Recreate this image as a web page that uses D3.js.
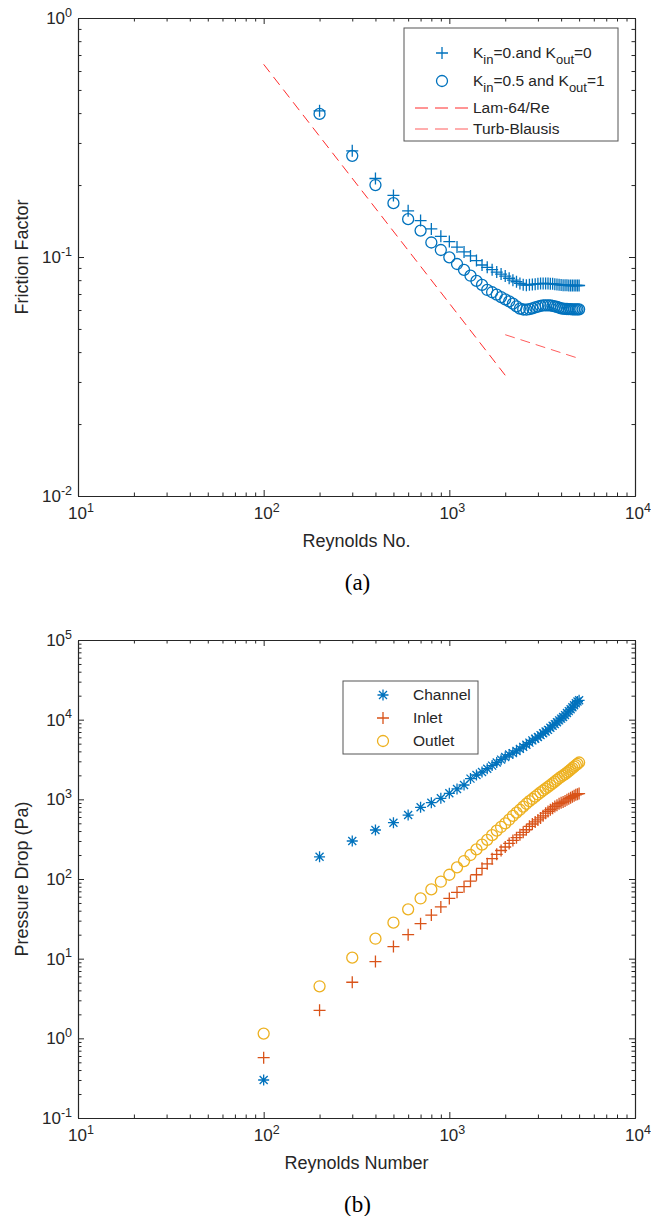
<!DOCTYPE html>
<html>
<head>
<meta charset="utf-8">
<script src="https://cdnjs.cloudflare.com/ajax/libs/d3/7.8.5/d3.min.js"></script>
<style>
  body { margin: 0; background: #fff; }
  svg { display: block; font-family: "Liberation Sans", Arial, sans-serif; }
</style>
</head>
<body>
<div id="chart"></div>
<script>
// Reynolds numbers (x data)
var reTop = [200, 300, 400, 500, 600, 700, 800, 900, 1000, 1100, 1200, 1300, 1400, 1500, 1600, 1700,
  1800, 1900, 2000, 2100, 2200, 2300, 2400, 2500, 2600, 2700, 2800, 2900, 3000, 3100, 3200, 3300,
  3400, 3500, 3600, 3700, 3800, 3900, 4000, 4100, 4200, 4300, 4400, 4500, 4600, 4700, 4800, 4900, 5000];
var reBottom = [100].concat(reTop);

// (a) friction factor
var fricNoLoss = [0.409, 0.278, 0.213, 0.181, 0.156, 0.142, 0.131, 0.122, 0.116, 0.110, 0.105, 0.101,
  0.0966, 0.0926, 0.0905, 0.0885, 0.0865, 0.0848, 0.0832, 0.0815, 0.0800, 0.0788, 0.0775, 0.0765,
  0.0762, 0.0765, 0.0768, 0.0770, 0.0772, 0.0774, 0.0775, 0.0775, 0.0774, 0.0773, 0.0772, 0.0770,
  0.0768, 0.0766, 0.0764, 0.0762, 0.0762, 0.0761, 0.0760, 0.0760, 0.0760, 0.0760, 0.0760, 0.0760, 0.0760];
var fricLoss = [0.397, 0.265, 0.200, 0.168, 0.144, 0.129, 0.115, 0.107, 0.0997, 0.0935, 0.0883, 0.0835,
  0.0794, 0.0764, 0.0728, 0.0712, 0.0696, 0.0680, 0.0665, 0.0652, 0.0638, 0.0622, 0.0608, 0.0603,
  0.0602, 0.0605, 0.0610, 0.0615, 0.0620, 0.0624, 0.0627, 0.0628, 0.0628, 0.0627, 0.0625, 0.0622,
  0.0618, 0.0614, 0.0610, 0.0608, 0.0607, 0.0606, 0.0605, 0.0605, 0.0604, 0.0604, 0.0604, 0.0604, 0.0604];
var lamRe = [100, 2000];
var lamF = [0.64, 0.032];
var turbRe = [2000, 5000];
var turbF = [0.0473, 0.0376];

// (b) pressure drop (Pa)
var dpChannel = [0.30, 190, 300, 412, 509, 635, 794, 908, 1030, 1190, 1350, 1514, 1820, 2020, 2200,
  2420, 2650, 2900, 3150, 3400, 3650, 3800, 4050, 4300, 4550, 4850, 5150, 5500, 5750, 6050, 6400,
  6750, 7100, 7450, 7900, 8400, 8800, 9300, 9800, 10300, 10800, 11400, 12100, 12800, 13500, 14300,
  15200, 16100, 16900, 17500];
var dpInlet = [0.571, 2.25, 5.06, 9.2, 14.2, 20.0, 27.5, 35.3, 44.6, 57, 68, 80, 94, 113, 136, 155,
  180, 204, 228, 252, 280, 305, 330, 358, 385, 415, 458, 490, 520, 552, 585, 620, 670, 705, 740,
  775, 810, 845, 880, 905, 925, 950, 985, 1020, 1050, 1080, 1110, 1140, 1160, 1180];
var dpOutlet = [1.146, 4.5, 10.3, 17.8, 28.3, 41.6, 57, 74, 92.5, 113, 140, 168, 200, 235, 270, 310,
  355, 405, 450, 500, 555, 620, 680, 740, 810, 880, 950, 1010, 1080, 1150, 1220, 1290, 1360, 1430,
  1510, 1590, 1670, 1750, 1840, 1920, 1990, 2070, 2160, 2260, 2360, 2460, 2570, 2680, 2790, 2900];

// tick exponents
var xExp = [1, 2, 3, 4];
var yExpTop = [-2, -1, 0];
var yExpBottom = [-1, 0, 1, 2, 3, 4, 5];

var BLUE = '#0072bd', ORANGE = '#d95319', YELLOW = '#edb120', AXC = '#262626';
var RED1 = '#ff2b2b', RED2 = '#ff5c5c';

var svg = d3.select('#chart').append('svg').attr('width', 651).attr('height', 1216);

function minorTicks(e0, e1) {
  var arr = [];
  for (var e = e0; e < e1; e++) {
    for (var k = 2; k < 10; k++) arr.push(k * Math.pow(10, e));
  }
  return arr;
}

function supText(sel, exp, anchor) {
  var t = sel.append('text').attr('text-anchor', anchor).attr('fill', AXC).style('font-size', '17px');
  t.append('tspan').text('10');
  t.append('tspan').attr('dy', -7.5).style('font-size', '12.5px').text(exp);
  return t;
}

function drawPanel(o) {
  var x = d3.scaleLog().domain([10, 10000]).range([o.left, o.right]);
  var y = d3.scaleLog().domain([Math.pow(10, o.yExp[0]), Math.pow(10, o.yExp[o.yExp.length - 1])])
    .range([o.bottom, o.top]);
  var g = svg.append('g');
  var xMaj = xExp.map(function (e) { return Math.pow(10, e); });
  var yMaj = o.yExp.map(function (e) { return Math.pow(10, e); });
  var xMin = minorTicks(1, 4);
  var yMin = minorTicks(o.yExp[0], o.yExp[o.yExp.length - 1]);

  // ticks point inwards on all four sides
  var sides = [
    ['axisBottom', x, xMaj, xMin, 'translate(0,' + o.bottom + ')'],
    ['axisTop', x, xMaj, xMin, 'translate(0,' + o.top + ')'],
    ['axisLeft', y, yMaj, yMin, 'translate(' + o.left + ',0)'],
    ['axisRight', y, yMaj, yMin, 'translate(' + o.right + ',0)']
  ];
  sides.forEach(function (s) {
    g.append('g').attr('transform', s[4])
      .call(d3[s[0]](s[1]).tickValues(s[3]).tickSizeInner(-3.5).tickSizeOuter(0).tickFormat(''));
    g.append('g').attr('transform', s[4])
      .call(d3[s[0]](s[1]).tickValues(s[2]).tickSizeInner(-6).tickSizeOuter(0).tickFormat(''));
  });
  g.selectAll('.domain').attr('stroke', AXC).attr('stroke-width', 1.1);
  g.selectAll('.tick line').attr('stroke', AXC).attr('stroke-width', 1);

  // tick labels
  xExp.forEach(function (e) {
    supText(g, e, 'middle').attr('x', x(Math.pow(10, e)) + 3).attr('y', o.bottom + 23);
  });
  o.yExp.forEach(function (e) {
    supText(g, e, 'end').attr('x', o.left - 6).attr('y', y(Math.pow(10, e)) + 6);
  });

  // axis titles
  g.append('text').attr('x', (o.left + o.right) / 2).attr('y', o.bottom + 51)
    .attr('text-anchor', 'middle').attr('fill', AXC).style('font-size', '18px').text(o.xTitle);
  g.append('text').attr('transform', 'translate(28,' + (o.top + o.bottom) / 2 + ') rotate(-90)')
    .attr('text-anchor', 'middle').attr('fill', AXC).style('font-size', '18px').text(o.yTitle);
  g.append('text').attr('x', (o.left + o.right) / 2 + 1).attr('y', o.bottom + 94)
    .attr('text-anchor', 'middle').attr('fill', '#000')
    .style('font-family', '"Liberation Serif", "Times New Roman", serif').style('font-size', '23px')
    .text(o.caption);

  return { x: x, y: y, g: g };
}

var plusPath = 'M-6,0H6M0,-6V6';
var starPath = 'M-5.5,0H5.5M0,-5.5V5.5M-4,-4L4,4M-4,4L4,-4';

function drawMarkers(p, xs, ys, type, color, r) {
  var data = xs.map(function (d, i) { return [d, ys[i]]; });
  if (type === 'o') {
    p.g.append('g').selectAll('circle').data(data).enter().append('circle')
      .attr('cx', function (d) { return p.x(d[0]); })
      .attr('cy', function (d) { return p.y(d[1]); })
      .attr('r', r).attr('fill', 'none').attr('stroke', color).attr('stroke-width', 1.3);
  } else {
    p.g.append('g').selectAll('path').data(data).enter().append('path')
      .attr('transform', function (d) { return 'translate(' + p.x(d[0]) + ',' + p.y(d[1]) + ')'; })
      .attr('d', type === '+' ? plusPath : starPath)
      .attr('fill', 'none').attr('stroke', color).attr('stroke-width', 1.3);
  }
}

// ---------- (a) ----------
var pa = drawPanel({ left: 78, right: 635, top: 18, bottom: 496, yExp: yExpTop,
  xTitle: 'Reynolds No.', yTitle: 'Friction Factor', caption: '(a)' });

var lineGen = d3.line().x(function (d) { return pa.x(d[0]); }).y(function (d) { return pa.y(d[1]); });
pa.g.append('path').datum(lamRe.map(function (d, i) { return [d, lamF[i]]; }))
  .attr('d', lineGen).attr('fill', 'none').attr('stroke', RED1).attr('stroke-width', 1)
  .attr('stroke-dasharray', '10,6');
pa.g.append('path').datum(turbRe.map(function (d, i) { return [d, turbF[i]]; }))
  .attr('d', lineGen).attr('fill', 'none').attr('stroke', RED2).attr('stroke-width', 1)
  .attr('stroke-dasharray', '10,6');

drawMarkers(pa, reTop, fricNoLoss, '+', BLUE);
drawMarkers(pa, reTop, fricLoss, 'o', BLUE, 5.5);

// legend (a)
var la = pa.g.append('g');
la.append('rect').attr('x', 404).attr('y', 28).attr('width', 214).attr('height', 113)
  .attr('fill', '#fff').attr('stroke', '#555').attr('stroke-width', 1);
la.append('path').attr('d', plusPath).attr('transform', 'translate(442,53)')
  .attr('stroke', BLUE).attr('stroke-width', 1.3).attr('fill', 'none');
la.append('circle').attr('cx', 442).attr('cy', 81).attr('r', 5.5)
  .attr('stroke', BLUE).attr('stroke-width', 1.3).attr('fill', 'none');
la.append('line').attr('x1', 415).attr('x2', 468).attr('y1', 108).attr('y2', 108)
  .attr('stroke', RED1).attr('stroke-dasharray', '13,7');
la.append('line').attr('x1', 415).attr('x2', 468).attr('y1', 129).attr('y2', 129)
  .attr('stroke', RED2).attr('stroke-dasharray', '13,7');

function subLabel(sel, y, parts) {
  var t = sel.append('text').attr('x', 473).attr('y', y).attr('fill', AXC).style('font-size', '15.5px');
  parts.forEach(function (p) {
    if (p[1]) {
      t.append('tspan').attr('dy', 6).style('font-size', '13px').text(p[0]);
    } else {
      t.append('tspan').attr('dy', p[2] || 0).text(p[0]);
    }
  });
}
subLabel(la, 58, [['K'], ['in', true], ['=0.and K', false, -6], ['out', true], ['=0', false, -6]]);
subLabel(la, 86, [['K'], ['in', true], ['=0.5 and K', false, -6], ['out', true], ['=1', false, -6]]);
la.append('text').attr('x', 473).attr('y', 113).attr('fill', AXC).style('font-size', '15.5px').text('Lam-64/Re');
la.append('text').attr('x', 473).attr('y', 134).attr('fill', AXC).style('font-size', '15.5px').text('Turb-Blausis');

// ---------- (b) ----------
var pb = drawPanel({ left: 78, right: 635, top: 640, bottom: 1118, yExp: yExpBottom,
  xTitle: 'Reynolds Number', yTitle: 'Pressure Drop (Pa)', caption: '(b)' });

drawMarkers(pb, reBottom, dpChannel, '*', BLUE);
drawMarkers(pb, reBottom, dpInlet, '+', ORANGE);
drawMarkers(pb, reBottom, dpOutlet, 'o', YELLOW, 5.5);

var lb = pb.g.append('g');
lb.append('rect').attr('x', 343).attr('y', 681).attr('width', 135).attr('height', 73)
  .attr('fill', '#fff').attr('stroke', '#555').attr('stroke-width', 1);
lb.append('path').attr('d', starPath).attr('transform', 'translate(383,695)')
  .attr('stroke', BLUE).attr('stroke-width', 1.3).attr('fill', 'none');
lb.append('path').attr('d', plusPath).attr('transform', 'translate(383,718)')
  .attr('stroke', ORANGE).attr('stroke-width', 1.3).attr('fill', 'none');
lb.append('circle').attr('cx', 383).attr('cy', 741).attr('r', 5.5)
  .attr('stroke', YELLOW).attr('stroke-width', 1.3).attr('fill', 'none');
['Channel', 'Inlet', 'Outlet'].forEach(function (s, i) {
  lb.append('text').attr('x', 413).attr('y', 700 + i * 23).attr('fill', AXC)
    .style('font-size', '15.5px').text(s);
});
</script>
</body>
</html>
